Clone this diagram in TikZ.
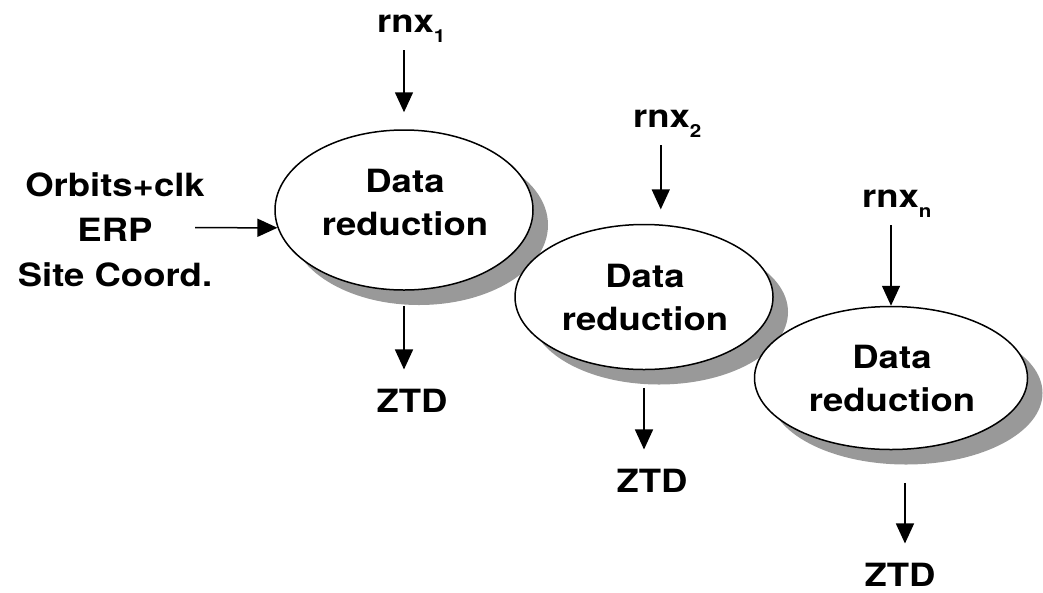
\documentclass[tikz,border=0pt]{standalone}
\usepackage{fontspec}
\setmainfont[FakeStretch=1.14]{TeX Gyre Heros}
\usetikzlibrary{shapes.geometric,shadows,arrows.meta}
\definecolor{shadowgray}{HTML}{999999}
\newcommand{\mysub}[1]{\raisebox{-10pt}{\fontsize{18}{18}\selectfont #1}}
\begin{document}
\begin{tikzpicture}[x=1pt,y=-1pt,
  lbl/.style={font=\fontsize{32}{43}\selectfont\bfseries, inner sep=0pt, align=center},
  proc/.style={ellipse, draw=black, line width=1.5pt, fill=white,
    general shadow={fill=shadowgray, shadow xshift=15pt, shadow yshift=-15pt}},
  arr/.style={-{Triangle[length=20pt,width=18pt]}, line width=1.5pt}]
\useasboundingbox (0,0) rectangle (1043,592);

% ellipses
\node[proc, minimum width=258pt, minimum height=160pt] (e1) at (404,210) {};
\node[lbl] (e1t) at (405,202) {Data\\reduction};
\node[proc, minimum width=258pt, minimum height=145pt] (e2) at (644,297) {};
\node[lbl] (e2t) at (645,297) {Data\\reduction};
\node[proc, minimum width=273pt, minimum height=143pt] (e3) at (891,378) {};
\node[lbl] (e3t) at (892,378) {Data\\reduction};

% inputs
\node[lbl, anchor=base west] (r1) at (377,32) {rnx\mysub{1}};
\node[lbl, anchor=base west] (r2) at (633,127) {rnx\mysub{2}};
\node[lbl, anchor=base west] (r3) at (862,207) {rnx\mysub{n}};

\node[lbl, font=\fontsize{32}{45}\selectfont\bfseries] (src) at (115,230) {Orbits+clk\\ERP\\Site Coord.};
\coordinate (srcend) at (195,227.7);

% outputs
\node[lbl, anchor=base] (z1) at (412,412) {ZTD};
\node[lbl, anchor=base] (z2) at (652,492) {ZTD};
\node[lbl, anchor=base] (z3) at (900,586) {ZTD};

% arrows in
\draw[arr] (srcend) -- (e1.188);
\draw[arr, shorten <=8pt, shorten >=17pt] (r1.south -| e1.north) -- (e1.north);
\draw[arr, shorten <=8pt, shorten >=15pt] (r2.south -| e2.77.5) -- (e2.77.5);
\draw[arr, shorten <=8pt] (r3.south -| e3.north) -- (e3.north);

% arrows out
\draw[arr, shorten <=15pt, shorten >=19pt] (e1.south) -- (e1.south |- z1.north);
\draw[arr, shorten <=17.5pt, shorten >=19pt] (e2.south) -- (e2.south |- z2.north);
\draw[arr, shorten <=33pt, shorten >=19pt] (e3.281.9) -- (e3.281.9 |- z3.north);
\end{tikzpicture}
\end{document}
